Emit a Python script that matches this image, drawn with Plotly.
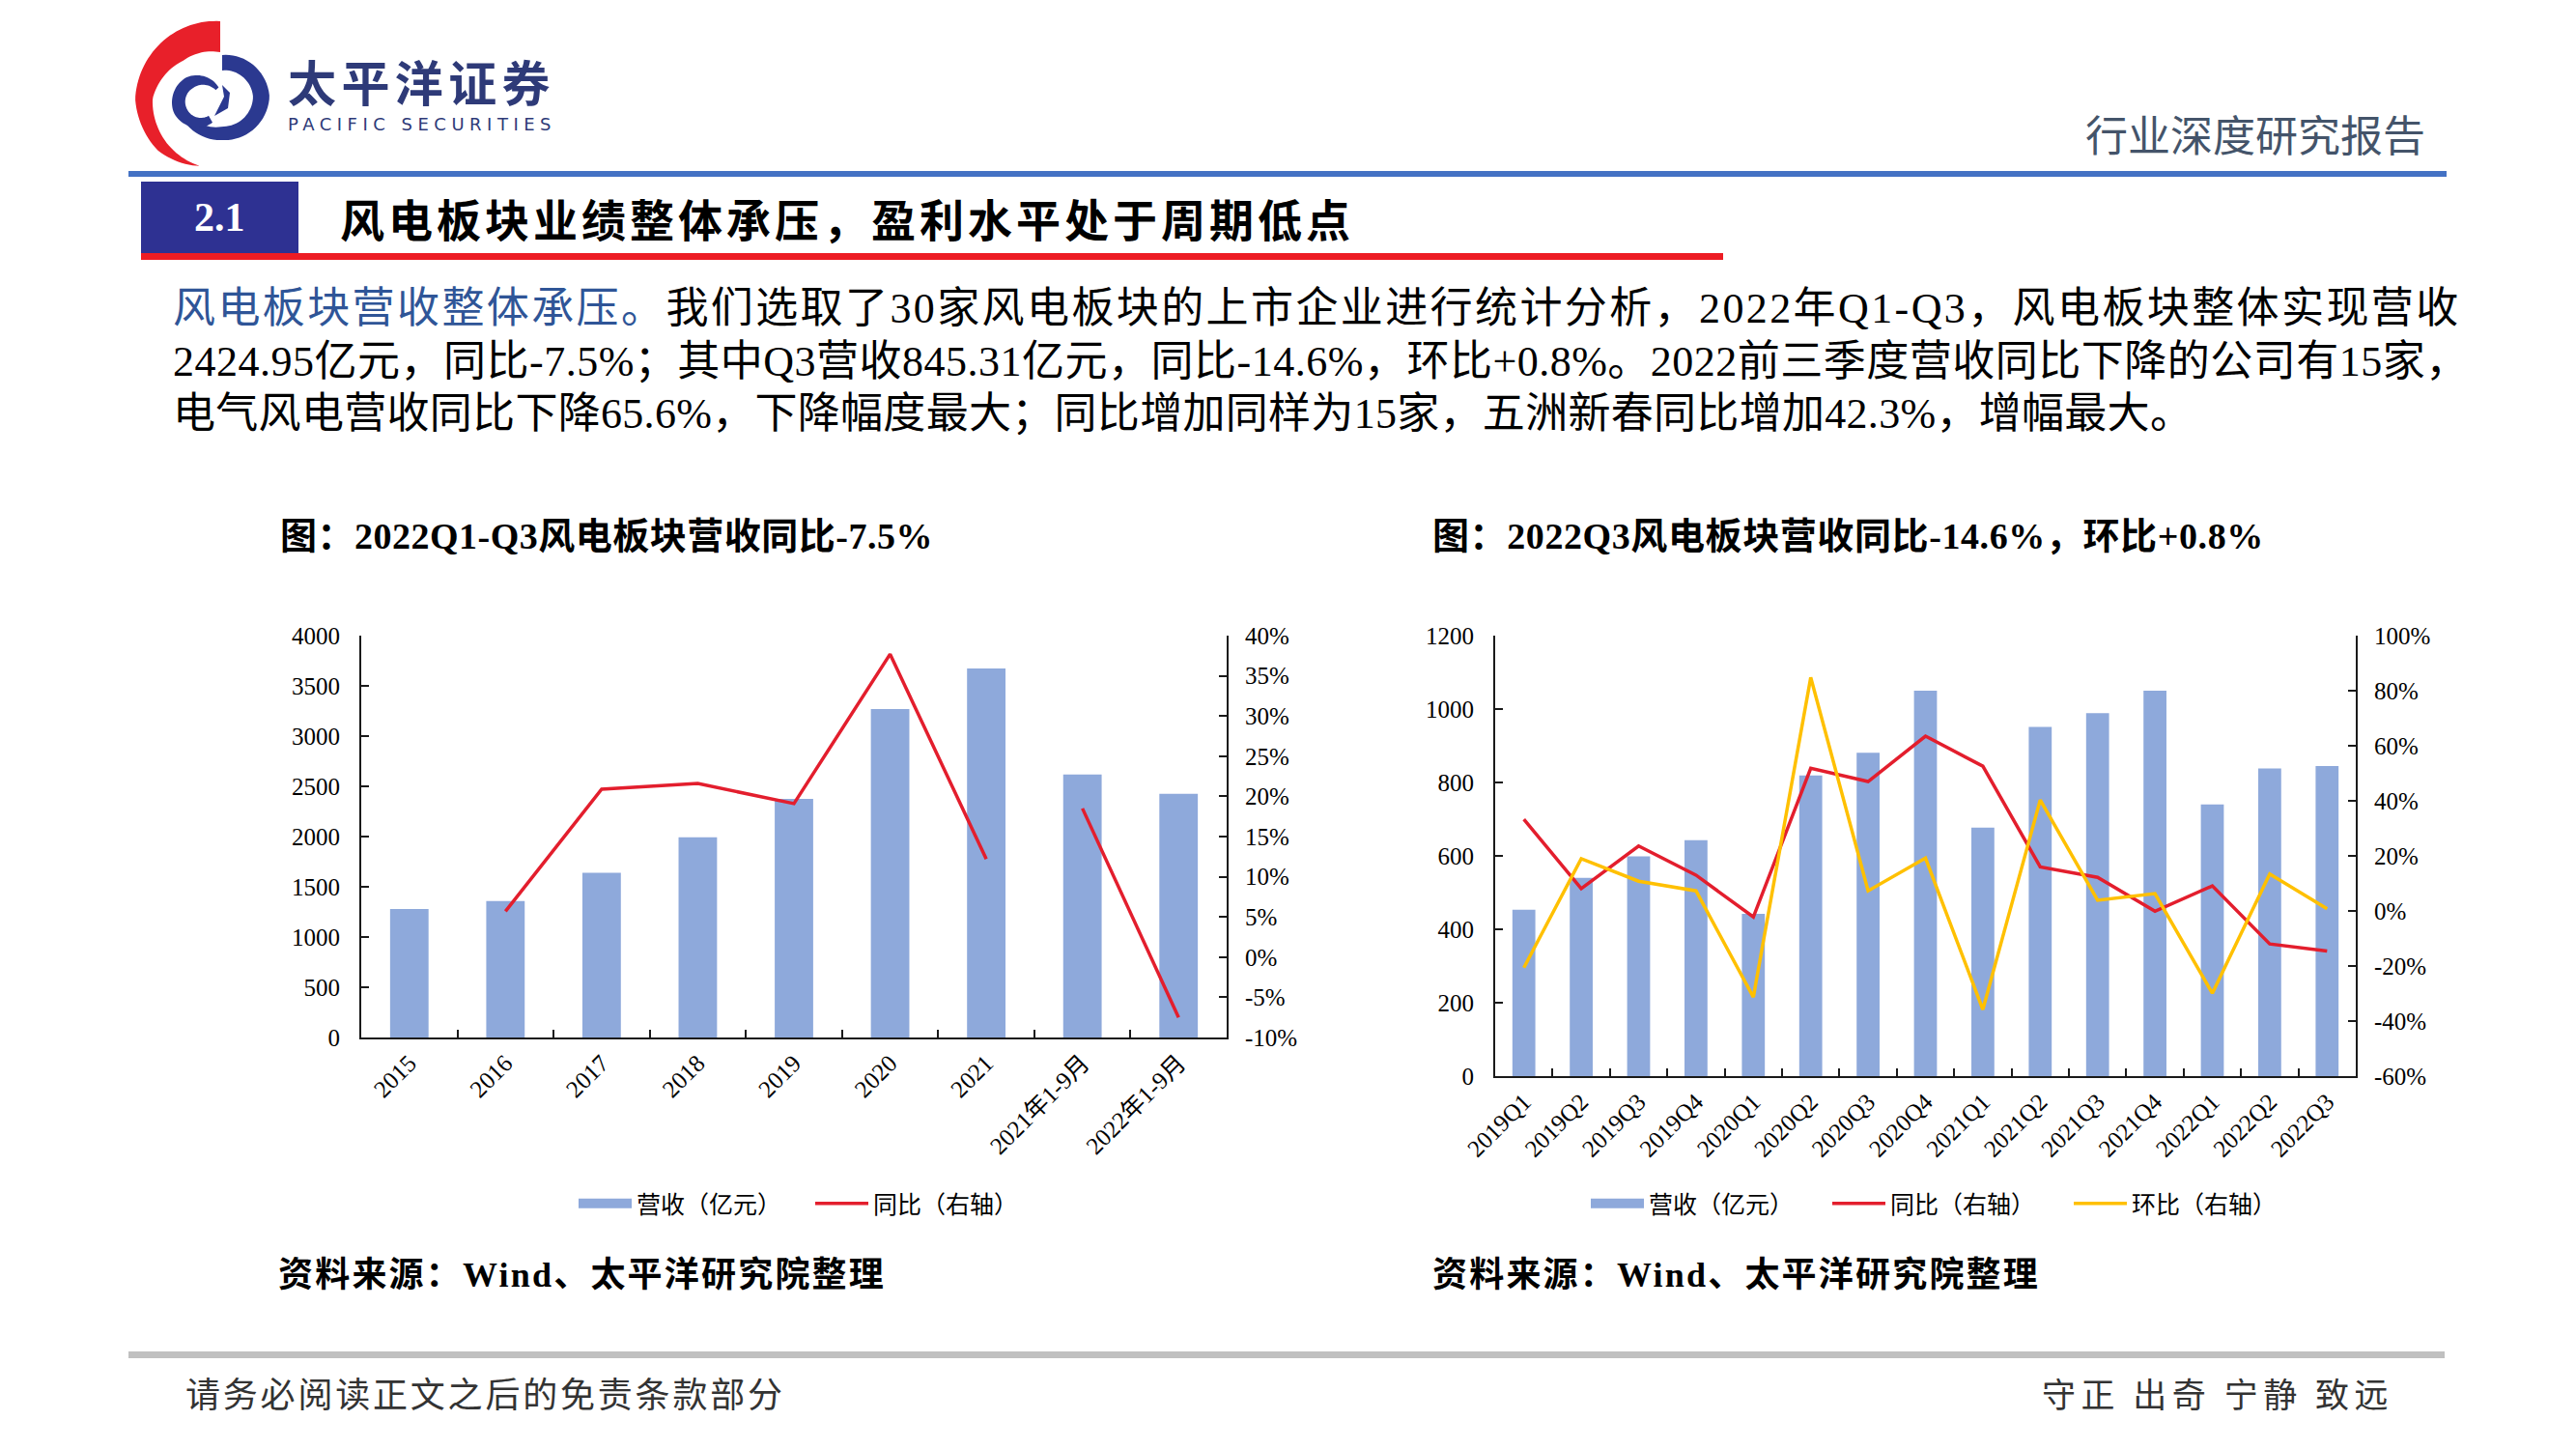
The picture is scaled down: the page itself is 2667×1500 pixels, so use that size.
import numpy as np
import plotly.graph_objects as go

W, H = 2667, 1500
OFF = 8  # page body margin in the browser

# ---------------- data ----------------
years = ["2015", "2016", "2017", "2018", "2019", "2020", "2021", "2021年1-9月", "2022年1-9月"]
rev_year = [1280, 1357, 1639, 1992, 2374, 3269, 3673, 2618, 2425]
yoy_year = [None, 5.7, 20.9, 21.6, 19.1, 37.7, 12.2, 18.5, -7.5]

quarters = ["2019Q1", "2019Q2", "2019Q3", "2019Q4", "2020Q1", "2020Q2", "2020Q3", "2020Q4",
            "2021Q1", "2021Q2", "2021Q3", "2021Q4", "2022Q1", "2022Q2", "2022Q3"]
rev_q = [453, 540, 599, 643, 442, 819, 881, 1050, 677, 951, 989, 1050, 740, 838, 845]
yoy_q = [33.3, 8.1, 23.6, 13.0, -2.2, 51.8, 47.0, 63.5, 52.6, 16.0, 12.2, -0.1, 9.1, -12.0, -14.6]
qoq_q = [-20.6, 19.0, 10.8, 7.3, -31.3, 84.8, 7.3, 19.2, -35.8, 40.3, 3.9, 6.3, -29.9, 13.4, 0.8]

left_y_ticks = [0, 500, 1000, 1500, 2000, 2500, 3000, 3500, 4000]
left_y2_ticks = [-10, -5, 0, 5, 10, 15, 20, 25, 30, 35, 40]
right_y_ticks = [0, 200, 400, 600, 800, 1000, 1200]
right_y2_ticks = [-60, -40, -20, 0, 20, 40, 60, 80, 100]

name_rev = "营收（亿元）"
name_yoy = "同比（右轴）"
name_qoq = "环比（右轴）"

# ---------------- styles ----------------
BAR = "#8EA9DB"
RED = "#E31E2D"
YEL = "#FFC000"
AX = "#1a1a1a"
SERIF = "Liberation Serif, Noto Sans CJK SC"
CJK = "Noto Sans CJK SC"


def X(px):
    return (px - OFF) / W


def Y(py):
    return 1 - (py - OFF) / H


fig = go.Figure()

# ---- left chart ----
fig.add_trace(go.Scatter(x=[None], y=[None], name=name_rev, mode="lines",
                         line=dict(color=BAR, width=13), xaxis="x", yaxis="y",
                         legend="legend", hoverinfo="skip"))
fig.add_trace(go.Bar(x=years, y=rev_year, name=name_rev, marker_color=BAR,
                     xaxis="x", yaxis="y", showlegend=False))
fig.add_trace(go.Scatter(x=years[:7], y=yoy_year[:7], name=name_yoy, mode="lines",
                         line=dict(color=RED, width=3.5), xaxis="x", yaxis="y2",
                         legend="legend", legendgroup="a"))
fig.add_trace(go.Scatter(x=years[7:], y=yoy_year[7:], name=name_yoy, mode="lines",
                         line=dict(color=RED, width=3.5), xaxis="x", yaxis="y2",
                         legend="legend", legendgroup="a", showlegend=False))

# ---- right chart ----
fig.add_trace(go.Scatter(x=[None], y=[None], name=name_rev, mode="lines",
                         line=dict(color=BAR, width=13), xaxis="x2", yaxis="y3",
                         legend="legend2", hoverinfo="skip"))
fig.add_trace(go.Bar(x=quarters, y=rev_q, name=name_rev, marker_color=BAR,
                     xaxis="x2", yaxis="y3", showlegend=False))
fig.add_trace(go.Scatter(x=quarters, y=yoy_q, name=name_yoy, mode="lines",
                         line=dict(color=RED, width=3.5), xaxis="x2", yaxis="y4",
                         legend="legend2"))
fig.add_trace(go.Scatter(x=quarters, y=qoq_q, name=name_qoq, mode="lines",
                         line=dict(color=YEL, width=3.5), xaxis="x2", yaxis="y4",
                         legend="legend2"))

tickfont = dict(family=SERIF, size=25, color="#000000")

common_x = dict(type="category", showline=True, linecolor=AX, linewidth=2, ticks="inside",
                ticklen=8, tickcolor=AX, tickwidth=1.5, tickson="boundaries", tickangle=-45,
                tickfont=tickfont, showgrid=False, zeroline=False, automargin=False)
common_y = dict(showline=True, linecolor=AX, linewidth=2, ticks="inside", ticklen=8,
                tickcolor=AX, tickwidth=1.5, tickfont=tickfont, showgrid=False,
                zeroline=False, automargin=False)

leg_font = dict(family=CJK, size=25, color="#000")
fig.update_layout(
    template="none",
    width=W, height=H, margin=dict(l=0, r=0, t=0, b=0, pad=0, autoexpand=False),
    paper_bgcolor="white", plot_bgcolor="rgba(0,0,0,0)",
    bargap=0.6, showlegend=True, hovermode=False,
    xaxis=dict(common_x, domain=[X(374), X(1270)], anchor="y"),
    yaxis=dict(common_y, domain=[Y(1074), Y(658)], range=[0, 4000], anchor="x",
               ticklabelstandoff=15,
               tickvals=left_y_ticks, ticktext=[str(v) for v in left_y_ticks]),
    yaxis2=dict(common_y, overlaying="y", side="right", anchor="x", range=[-10, 40],
                ticklabelstandoff=12,
                tickvals=left_y2_ticks, ticktext=[f"{v}%" for v in left_y2_ticks]),
    xaxis2=dict(common_x, domain=[X(1548), X(2439)], anchor="y3"),
    yaxis3=dict(common_y, domain=[Y(1114), Y(658)], range=[0, 1200], anchor="x2",
                ticklabelstandoff=15,
                tickvals=right_y_ticks, ticktext=[str(v) for v in right_y_ticks]),
    yaxis4=dict(common_y, overlaying="y3", side="right", anchor="x2", range=[-60, 100],
                ticklabelstandoff=12,
                tickvals=right_y2_ticks, ticktext=[f"{v}%" for v in right_y2_ticks]),
    legend=dict(orientation="h", x=X(839), y=Y(1246), xanchor="center", yanchor="middle",
                font=leg_font, bgcolor="rgba(0,0,0,0)", itemwidth=55, borderwidth=0,
                entrywidth=175, entrywidthmode="pixels"),
    legend2=dict(orientation="h", x=X(2017), y=Y(1246), xanchor="center", yanchor="middle",
                 font=leg_font, bgcolor="rgba(0,0,0,0)", itemwidth=55, borderwidth=0,
                 entrywidth=180, entrywidthmode="pixels"),
)

# ---------------- decorative shapes ----------------
shapes = []


def rect(x0, y0, x1, y1, color):
    shapes.append(dict(type="rect", xref="paper", yref="paper", x0=X(x0), x1=X(x1),
                       y0=Y(y1), y1=Y(y0), fillcolor=color, line=dict(width=0), layer="above"))


rect(133, 177, 2533, 183, "#4472C4")
rect(146, 188, 309, 262, "#2E3192")
rect(146, 262, 1784, 269, "#ED1C24")
rect(133, 1399, 2531, 1406, "#C0C0C0")


def poly(points, color):
    d = "M " + " L ".join(f"{X(px):.5f},{Y(py):.5f}" for px, py in points) + " Z"
    shapes.append(dict(type="path", xref="paper", yref="paper", path=d, fillcolor=color,
                       line=dict(width=0), layer="above"))


def band(cx, cy, th_a, th_b, ro_pts, ri_pts, n=60):
    th = np.linspace(th_a, th_b, n)
    ro = np.interp(th, ro_pts[0], ro_pts[1])
    ri = np.interp(th, ri_pts[0], ri_pts[1])
    t = np.radians(th)
    outer = [(cx + r * np.cos(a), cy - r * np.sin(a)) for r, a in zip(ro, t)]
    inner = [(cx + r * np.cos(a), cy - r * np.sin(a)) for r, a in zip(ri, t)][::-1]
    return outer + inner


# red crescent
poly(band(228, 102, 90, 253,
          ([90, 135, 180, 220, 253], [80, 84, 88, 84, 73]),
          ([90, 135, 180, 220, 253], [48, 55, 70, 72, 73])), "#E8202A")
# blue outer ring (open at upper left)
poly(band(230, 100, -200, 90,
          ([-200, -150, -90, 0, 90], [44, 47, 45, 49, 43]),
          ([-200, -150, -90, 0, 90], [43, 38, 31, 32, 27])), "#2B3990")
# inner swirl
poly(band(208, 106, 40, 300,
          ([40, 120, 200, 300], [24, 30, 30, 24]),
          ([40, 120, 200, 300], [20, 17, 16, 16])), "#2B3990")
poly([(222, 120), (236, 112), (238, 96), (230, 88), (232, 100), (226, 112)], "#2B3990")

fig.update_layout(shapes=shapes)

# ---------------- texts ----------------
ann = []


def text(t, x, y, size, color="#000000", family=CJK, xanchor="left"):
    ann.append(dict(text=t, x=X(x), y=Y(y), xref="paper", yref="paper", showarrow=False,
                    xanchor=xanchor, yanchor="middle", align="left",
                    font=dict(family=family, size=size, color=color)))


# company name block (two lines in one text)
text("<span style='font-size:50px;letter-spacing:5.4px'><b>太平洋证券</b></span><br>"
     "<span style='font-family:DejaVu Sans;font-size:18px;letter-spacing:5.5px'>PACIFIC SECURITIES</span>",
     296, 93, 23, "#2E3A78")
text("行业深度研究报告", 2157, 138, 44, "#44546A")
text("<b>2.1</b>", 227, 225, 42, "#FFFFFF", family="Liberation Serif", xanchor="center")
text("<b><span style='letter-spacing:4px'>风电板块业绩整体承压，盈利水平处于周期低点</span></b>",
     350, 225, 46, "#000000")

text("<span style='letter-spacing:2.4px'><span style='color:#2F5597'>风电板块营收整体承压。</span>"
     "我们选取了30家风电板块的上市企业进行统计分析，2022年Q1-Q3，风电板块整体实现营收</span>",
     177, 320, 44, "#000000", family=SERIF)
text("<span style='letter-spacing:0.5px'>2424.95亿元，同比-7.5%；其中Q3营收845.31亿元，同比-14.6%，"
     "环比+0.8%。2022前三季度营收同比下降的公司有15家，</span>",
     177, 374, 44, "#000000", family=SERIF)
text("<span style='letter-spacing:0.3px'>电气风电营收同比下降65.6%，下降幅度最大；同比增加同样为15家，"
     "五洲新春同比增加42.3%，增幅最大。</span>",
     177, 429, 44, "#000000", family=SERIF)

text("<span style='letter-spacing:0.5px'><b>图：2022Q1-Q3风电板块营收同比-7.5%</b></span>",
     288, 555, 38, family=SERIF)
text("<span style='letter-spacing:0.6px'><b>图：2022Q3风电板块营收同比-14.6%，环比+0.8%</b></span>",
     1481, 555, 38, family=SERIF)
text("<span style='letter-spacing:2.2px'><b>资料来源：Wind、太平洋研究院整理</b></span>",
     286, 1320, 36, family=SERIF)
text("<span style='letter-spacing:2.2px'><b>资料来源：Wind、太平洋研究院整理</b></span>",
     1481, 1320, 36, family=SERIF)

text("<span style='letter-spacing:2.8px'>请务必阅读正文之后的免责条款部分</span>", 190, 1441, 36, "#333333")
text("<span style='letter-spacing:5.5px'>守正 出奇 宁静 致远</span>", 2112, 1441, 35, "#333333")

fig.update_layout(annotations=ann)

fig.write_html("out.html")
